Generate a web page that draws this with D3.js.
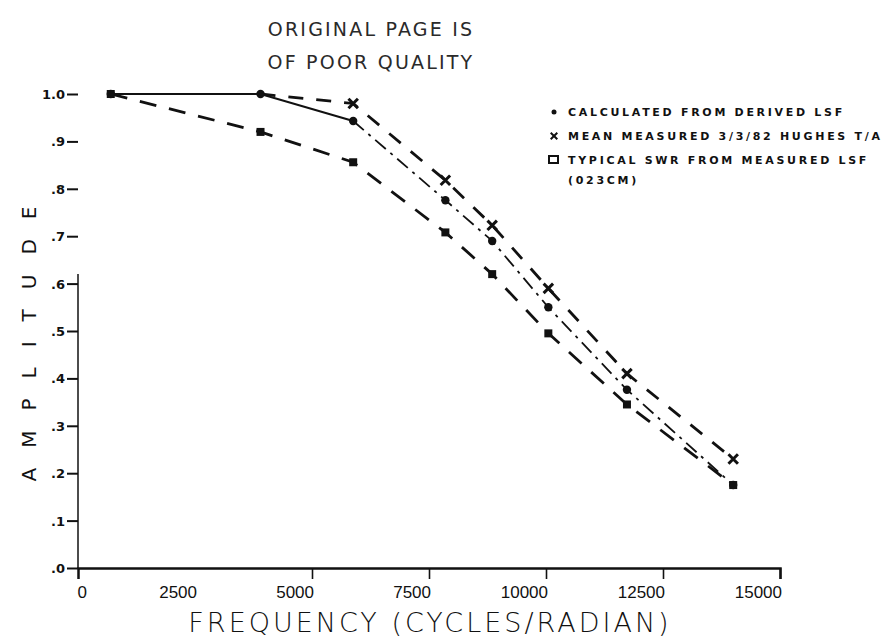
<!DOCTYPE html>
<html><head><meta charset="utf-8">
<script src="https://cdn.jsdelivr.net/npm/d3@7"></script>
<style>html,body{margin:0;padding:0;background:#fff;}</style>
</head><body>
<svg id="chart" width="888" height="643"></svg>
<script>
// ---- data ----
const frequencies = [700, 3900, 5880, 7850, 8850, 10050, 11730, 14000];
const calculated  = [1.0, 1.0, 0.943, 0.776, 0.69, 0.55, 0.376, 0.175];
const measured    = [1.0, 1.0, 0.98, 0.818, 0.723, 0.59, 0.41, 0.23];
const typical     = [1.0, 0.92, 0.856, 0.708, 0.62, 0.495, 0.345, 0.175];
const xTicks = [0, 2500, 5000, 7500, 10000, 12500, 15000];
const xTickLabels = ["0", "2500", "5000", "7500", "10000", "12500", "15000"];
const yTicks = [0, 0.1, 0.2, 0.3, 0.4, 0.5, 0.6, 0.7, 0.8, 0.9, 1.0];
const yTickLabels = [".0", ".1", ".2", ".3", ".4", ".5", ".6", ".7", ".8", ".9", "1.0"];
const legendLabels = ["CALCULATED FROM DERIVED LSF", "MEAN MEASURED 3/3/82 HUGHES T/A", "TYPICAL SWR FROM MEASURED LSF", "(023CM)"];
const titleLines = ["ORIGINAL PAGE IS", "OF POOR QUALITY"];

const svg = d3.select("#chart");
const x = d3.scaleLinear().domain([0, 15000]).range([78, 780]);
const y = d3.scaleLinear().domain([0, 1]).range([568, 94]);

const ink = "#111";

// title
svg.selectAll("text.title").data(titleLines).join("text")
  .attr("x", 371).attr("y", (d, i) => 36 + i * 33)
  .attr("text-anchor", "middle")
  .attr("font-family", "DejaVu Sans").attr("font-size", 19)
  .attr("letter-spacing", 2.2).attr("fill", "#2a2a2a")
  .text(d => d);

// x axis
const xAxis = d3.axisBottom(x).tickValues(xTicks.slice(2)).tickSize(11).tickFormat("");
const gx = svg.append("g").attr("transform", `translate(0,${y(0)})`).call(xAxis);
gx.select(".domain").attr("stroke", ink).attr("stroke-width", 2.5);
gx.selectAll(".tick line").attr("stroke", ink).attr("stroke-width", 1.6);
svg.selectAll("text.xl").data(xTicks).join("text")
  .attr("x", d => d === 0 ? x(d) + 9 : x(d) + 2).attr("y", 598)
  .attr("text-anchor", "end")
  .attr("font-family", "Liberation Sans Narrow, Liberation Sans").attr("font-size", 17)
  .attr("fill", ink)
  .text((d, i) => xTickLabels[i]);

// y axis
const yAxis = d3.axisLeft(y).tickValues(yTicks).tickSize(11).tickFormat("");
const gy = svg.append("g").attr("transform", `translate(${x(0)},0)`).call(yAxis);
gy.select(".domain").remove();
svg.append("line").attr("x1", x(0)).attr("x2", x(0)).attr("y1", y(0)).attr("y2", y(0.62))
  .attr("stroke", ink).attr("stroke-width", 1.5);
gy.selectAll(".tick line").attr("stroke", ink).attr("stroke-width", 2);
svg.selectAll("text.yl").data(yTicks).join("text")
  .attr("x", 65).attr("y", d => y(d) + 5)
  .attr("text-anchor", "end")
  .attr("font-family", "DejaVu Sans").attr("font-weight", "bold").attr("font-size", 13)
  .attr("fill", ink)
  .text((d, i) => yTickLabels[i]);

// axis titles
svg.append("text")
  .attr("transform", "translate(36,334) rotate(-90)")
  .attr("text-anchor", "middle")
  .attr("font-family", "DejaVu Sans").attr("font-size", 20).attr("letter-spacing", 20)
  .attr("fill", ink)
  .text("AMPLITUDE");
svg.append("text")
  .attr("x", 430).attr("y", 632)
  .attr("text-anchor", "middle")
  .attr("font-family", "DejaVu Sans").attr("font-weight", 200).attr("font-size", 27)
  .attr("letter-spacing", 3)
  .attr("fill", ink)
  .text("FREQUENCY (CYCLES/RADIAN)");

// lines
const pts = vals => frequencies.map((f, i) => [f, vals[i]]);
const line = d3.line().x(d => x(d[0])).y(d => y(d[1]));

svg.append("path").datum(pts(typical)).attr("d", line)
  .attr("fill", "none").attr("stroke", ink).attr("stroke-width", 2.8)
  .attr("stroke-dasharray", "17,13");
svg.append("path").datum(pts(measured).slice(1)).attr("d", line)
  .attr("fill", "none").attr("stroke", ink).attr("stroke-width", 2.8)
  .attr("stroke-dasharray", "15,13");
svg.append("path").datum(pts(calculated).slice(0, 3)).attr("d", line)
  .attr("fill", "none").attr("stroke", ink).attr("stroke-width", 2.2);
svg.append("path").datum(pts(calculated).slice(2)).attr("d", line)
  .attr("fill", "none").attr("stroke", ink).attr("stroke-width", 1.8)
  .attr("stroke-dasharray", "14,6,3,6");

// markers
svg.selectAll("path.sq").data(pts(typical)).join("path")
  .attr("transform", d => `translate(${x(d[0])},${y(d[1])})`)
  .attr("d", d3.symbol(d3.symbolSquare, 64)).attr("fill", ink);
svg.selectAll("path.xm").data(pts(measured).slice(2)).join("path")
  .attr("transform", d => `translate(${x(d[0])},${y(d[1])})`)
  .attr("d", d3.symbol(d3.symbolX, 60)).attr("fill", "none").attr("stroke", ink).attr("stroke-width", 3);
svg.selectAll("circle.cm").data(pts(calculated)).join("circle")
  .attr("cx", d => x(d[0])).attr("cy", d => y(d[1])).attr("r", 4.2)
  .attr("fill", ink);

// legend
const legY = [116, 140, 164, 184];
const lg = svg.append("g");
lg.append("circle").attr("cx", 554).attr("cy", legY[0] - 4).attr("r", 2.5).attr("fill", ink);
lg.append("path").attr("transform", `translate(554,${legY[1] - 4})`)
  .attr("d", d3.symbol(d3.symbolX, 30)).attr("fill", "none").attr("stroke", ink).attr("stroke-width", 2);
lg.append("rect").attr("x", 549).attr("y", legY[2] - 8).attr("width", 9).attr("height", 7)
  .attr("fill", "none").attr("stroke", ink).attr("stroke-width", 2);
lg.selectAll("text").data(legendLabels).join("text")
  .attr("x", 568).attr("y", (d, i) => legY[i])
  .attr("font-family", "DejaVu Sans").attr("font-weight", "bold").attr("font-size", 11)
  .attr("letter-spacing", 2.7).attr("fill", ink)
  .text(d => d);
</script>
</body></html>
